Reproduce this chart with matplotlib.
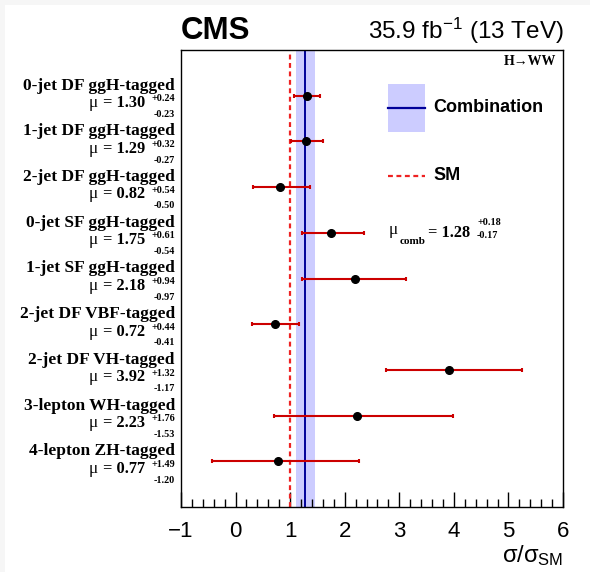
import matplotlib.pyplot as plt
from matplotlib.transforms import blended_transform_factory
from matplotlib.patches import Rectangle
from matplotlib.lines import Line2D

# per-category signal strengths
names = ["0-jet DF ggH-tagged", "1-jet DF ggH-tagged", "2-jet DF ggH-tagged",
         "0-jet SF ggH-tagged", "1-jet SF ggH-tagged", "2-jet DF VBF-tagged",
         "2-jet DF VH-tagged", "3-lepton WH-tagged", "4-lepton ZH-tagged"]
mu = [1.30, 1.29, 0.82, 1.75, 2.18, 0.72, 3.92, 2.23, 0.77]
err_up = [0.24, 0.32, 0.54, 0.61, 0.94, 0.44, 1.32, 1.76, 1.49]
err_dn = [0.23, 0.27, 0.50, 0.54, 0.97, 0.41, 1.17, 1.53, 1.20]

mu_comb = 1.28
comb_up = 0.18
comb_dn = 0.17
mu_sm = 1.0

plt.rcParams["mathtext.fontset"] = "custom"
plt.rcParams["mathtext.rm"] = "Liberation Sans"
plt.rcParams["mathtext.it"] = "Liberation Sans"

W, H = 590, 572
fig = plt.figure(figsize=(W / 100, H / 100), dpi=100, facecolor="#f6f6f6")
fig.patches.append(Rectangle((5 / W, 0), 1, 1 - 5 / H, transform=fig.transFigure,
                             facecolor="white", edgecolor="none", zorder=-10))

ax = fig.add_axes([181 / W, 1 - 507 / H, (563 - 181) / W, (507 - 50) / H])
ax.set_xlim(-1, 6)
ax.set_ylim(0, 10)

serif = "Liberation Serif"
sans = "Liberation Sans"

# combination band + line, SM line
ax.axvspan(mu_comb - comb_dn, mu_comb + comb_up, color="#ccccff", lw=0, zorder=1)
ax.axvline(mu_comb, color="#000099", lw=1.4, zorder=2)
ax.axvline(mu_sm, color="#ee2222", lw=1.6, ls=(0, (2.2, 1.6)), zorder=2)

n = len(names)
ys = [n - i for i in range(n)]
ax.errorbar(mu, ys, xerr=[err_dn, err_up], fmt="o", color="black", ms=5.5,
            ecolor="#cc0000", elinewidth=1.5, capsize=1.2, capthick=1.5, zorder=4)

ax.set_yticks([])
ax.set_xticks(range(-1, 7))
ax.set_xticks([-1 + 0.2 * k for k in range(36)], minor=True)
ax.tick_params(axis="x", which="major", direction="in", length=11, width=1,
               labelsize=16, pad=10)
ax.tick_params(axis="x", which="minor", direction="in", length=5.5, width=1)
ax.set_xticklabels(["\u22121", "0", "1", "2", "3", "4", "5", "6"], family=sans)
for s in ax.spines.values():
    s.set_linewidth(1.0)

# category labels on the left
tr = blended_transform_factory(ax.transAxes, ax.transData)
xr = -6 / 382
xm = -36 / 382
xmu = -83 / 382
for y, nm, m, u, d in zip(ys, names, mu, err_up, err_dn):
    ax.text(xr, y + 0.22, nm, transform=tr, ha="right", va="center",
            family=serif, weight="bold", fontsize=12.5)
    ax.text(xm, y - 0.16, "= %.2f" % m, transform=tr, ha="right", va="center",
            family=serif, weight="bold", fontsize=11.8)
    ax.text(xmu, y - 0.16, "\u03bc", transform=tr, ha="right", va="center",
            family=serif, fontsize=12.5)
    ax.text(xr, y - 0.07, "+%.2f" % u, transform=tr, ha="right", va="center",
            family=serif, weight="bold", fontsize=7.3)
    ax.text(xr, y - 0.41, "-%.2f" % d, transform=tr, ha="right", va="center",
            family=serif, weight="bold", fontsize=7.3)

# legend
def fx(px):
    return px / W

def fy(py):
    return 1 - py / H

fig.patches.append(Rectangle((fx(388), fy(132)), fx(425) - fx(388), fy(84) - fy(132),
                             transform=fig.transFigure, facecolor="#ccccff",
                             edgecolor="none", zorder=3))
fig.lines.append(Line2D([fx(388), fx(425)], [fy(108), fy(108)], transform=fig.transFigure,
                        color="#000099", lw=1.6, zorder=4))
fig.text(fx(433), fy(108), "Combination", family=sans, weight="bold", fontsize=13,
         va="center", ha="left")
fig.lines.append(Line2D([fx(388), fx(425)], [fy(176), fy(176)], transform=fig.transFigure,
                        color="#ee2222", lw=1.6, ls=(0, (2.2, 1.6)), zorder=4))
fig.text(fx(433), fy(176), "SM", family=sans, weight="bold", fontsize=13,
         va="center", ha="left")

fig.text(fx(389), fy(230), "\u03bc", family=serif, fontsize=12.5,
         va="center", ha="left")
fig.text(fx(400), fy(241), "comb", family=serif, weight="bold", fontsize=8,
         va="center", ha="left")
fig.text(fx(428), fy(233), "= %.2f" % mu_comb, family=serif, weight="bold", fontsize=11.8,
         va="center", ha="left")
fig.text(fx(477), fy(223), "+%.2f" % comb_up, family=serif, weight="bold", fontsize=7.3,
         va="center", ha="left")
fig.text(fx(477), fy(235), "-%.2f" % comb_dn, family=serif, weight="bold", fontsize=7.3,
         va="center", ha="left")

# header texts
fig.text(fx(181), fy(31), "CMS", family=sans, weight="bold", fontsize=22.5,
         va="center", ha="left")
fig.text(fx(564), fy(31), "35.9 fb$^{-1}$ (13 TeV)", family=sans, fontsize=17.5,
         va="center", ha="right")
fig.text(fx(556), fy(62), "H\u2192WW", family=serif, weight="bold", fontsize=10,
         va="center", ha="right")

fig.text(fx(563), fy(556), "\u03c3/\u03c3$_{\\mathrm{SM}}$", family=sans, fontsize=17,
         va="center", ha="right")

fig.savefig("out.png", dpi=100, facecolor=fig.get_facecolor())
